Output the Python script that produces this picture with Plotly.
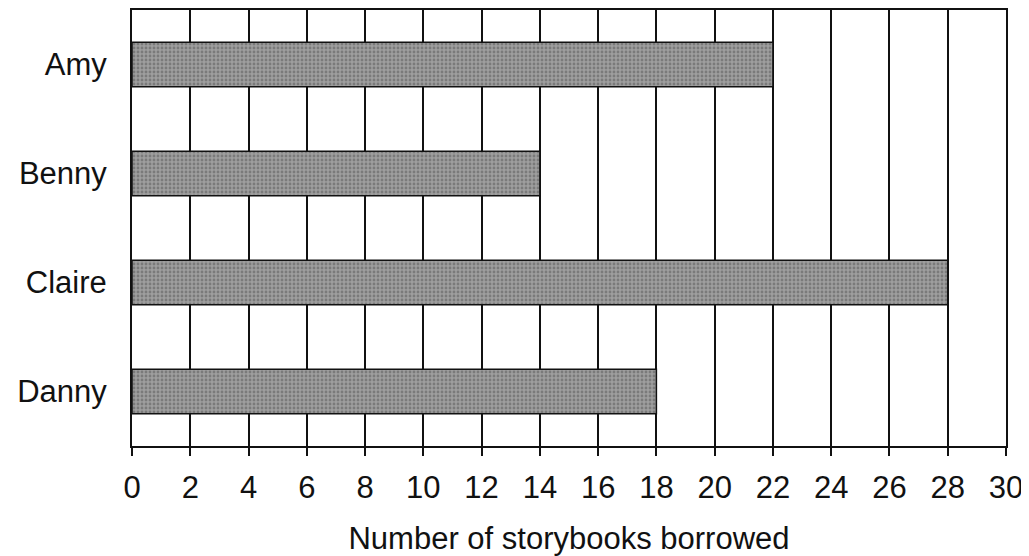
import plotly.graph_objects as go

names = ["Amy", "Benny", "Claire", "Danny"]
books = [22, 14, 28, 18]
x_ticks = list(range(0, 31, 2))

FONT = "Liberation Sans, Arial, sans-serif"
FS = 31

fig = go.Figure(go.Bar(
    x=books, y=names, orientation="h", width=0.41,
    marker=dict(color="#949494", line=dict(color="#111111", width=1.5),
                pattern=dict(shape=".", fgcolor="#555555", bgcolor="#9e9e9e", size=4, solidity=0.4)),
))

# page body adds an 8px offset, so the figure is sized to fit the 1029x556 window
fig.update_layout(
    width=1021, height=548,
    margin=dict(l=124, r=23, t=2, b=110, autoexpand=False),
    plot_bgcolor="white", paper_bgcolor="white",
    font=dict(family=FONT, size=FS, color="#111111"),
    showlegend=False,
)
fig.update_xaxes(
    range=[0, 30], tickvals=x_ticks, ticktext=[str(v) for v in x_ticks],
    tickfont=dict(family=FONT, size=FS, color="#111111"),
    showgrid=True, gridcolor="#111111", gridwidth=2,
    showline=True, linecolor="#111111", linewidth=2, mirror=True,
    ticks="outside", ticklen=8, tickwidth=1.5, tickcolor="#111111",
    ticklabelstandoff=5, zeroline=False, automargin=False,
    title=dict(text="Number of storybooks borrowed", standoff=24,
               font=dict(family=FONT, size=FS, color="#111111")),
)
fig.update_yaxes(
    categoryorder="array", categoryarray=names, autorange="reversed",
    tickfont=dict(family=FONT, size=FS, color="#111111"),
    showgrid=False, showline=True, linecolor="#111111", linewidth=2, mirror=True,
    ticks="", ticklabelstandoff=17, automargin=False,
)
fig.write_html("out.html")
